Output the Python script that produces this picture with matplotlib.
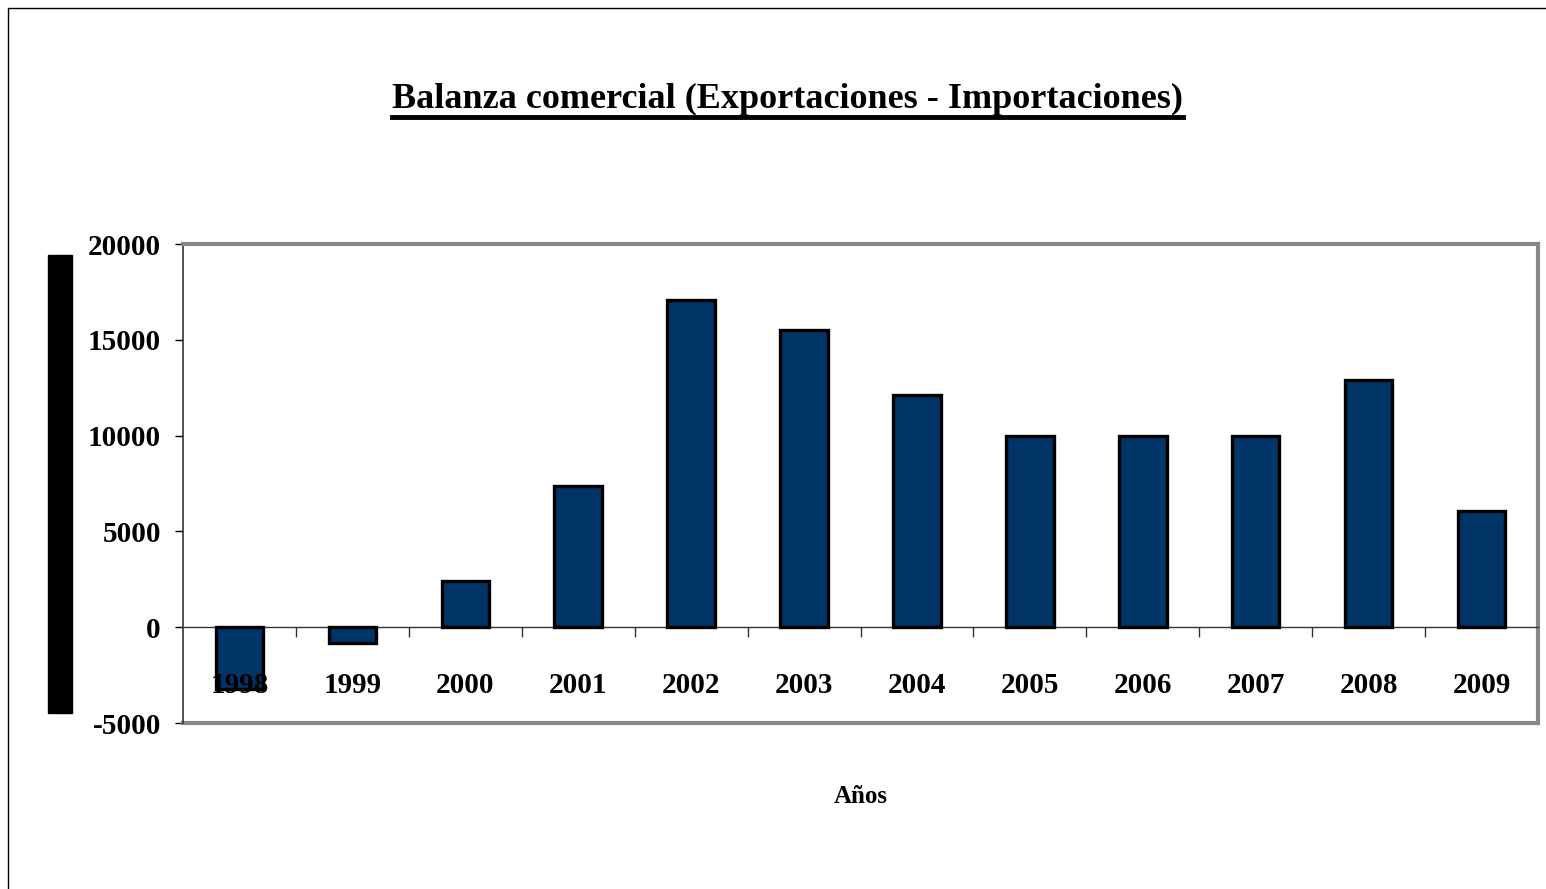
import matplotlib
matplotlib.use("Agg")
import matplotlib.pyplot as plt
from matplotlib.patches import Rectangle
from matplotlib.lines import Line2D

# --- data ---
years = ['1998', '1999', '2000', '2001', '2002', '2003',
         '2004', '2005', '2006', '2007', '2008', '2009']
balanza = [-3200, -800, 2400, 7350, 17100, 15500,
           12100, 10000, 10000, 10000, 12900, 6050]
yticks = [-5000, 0, 5000, 10000, 15000, 20000]

title = 'Balanza comercial (Exportaciones - Importaciones)'
bar_color = '#003366'
serif = ['Liberation Serif', 'DejaVu Serif']

W, H = 1546, 889
fig = plt.figure(figsize=(W / 100, H / 100), dpi=100)

# outer border of the chart area
fig.patches.append(Rectangle((8 / W, -0.05), 1.2, (H - 8) / H + 0.05,
                             transform=fig.transFigure, fill=False,
                             edgecolor='black', linewidth=1.0))

ax = fig.add_axes([183 / W, 1 - 723 / H, (1538 - 183) / W, (723 - 244) / H])

x = list(range(len(years)))
ax.bar(x, balanza, width=0.42, color=bar_color, edgecolor='black',
       linewidth=2.4, zorder=3)

ax.set_xlim(-0.5, len(years) - 0.5)
ax.set_ylim(-5000, 20000)

# y axis
ax.set_yticks(yticks)
ax.set_yticklabels([str(v) for v in yticks], fontfamily=serif,
                   fontweight='bold', fontsize=21)
ax.tick_params(axis='y', direction='out', length=6, width=1, pad=10)

# x axis sits on zero, ticks between categories, labels below
ax.spines['bottom'].set_position(('data', 0))
ax.spines['bottom'].set_color('#333333')
ax.spines['bottom'].set_linewidth(1.0)
ax.set_xticks([i + 0.5 for i in x[:-1]] + [len(years) - 0.5])
ax.set_xticklabels([])
ax.tick_params(axis='x', direction='out', length=7, width=1, color='#333333')
for i, lab in zip(x, years):
    ax.annotate(lab, xy=(i, 0), xytext=(0, -45), textcoords='offset pixels',
                ha='center', va='top', fontfamily=serif, fontweight='bold',
                fontsize=21, zorder=4)

ax.spines['left'].set_color('#333333')
ax.spines['left'].set_linewidth(1.2)
for s in ['top', 'right']:
    ax.spines[s].set_color('#888888')
    ax.spines[s].set_linewidth(3)
ax.add_line(Line2D([0, 1], [0, 0], transform=ax.transAxes, color='#888888',
                   linewidth=3, clip_on=False))

ax.text(0.5, -0.13, 'Años', transform=ax.transAxes, ha='center', va='top',
        fontfamily=serif, fontweight='bold', fontsize=18)

# black block on the left (axis title area in the original)
fig.patches.append(Rectangle((48 / W, 1 - 713 / H), 24 / W, 458 / H,
                             transform=fig.transFigure, color='black'))

# title, fitted to the reference width, with underline
t = fig.text(787 / W, 1 - 108 / H, title, ha='center', va='baseline',
             fontfamily=serif, fontweight='bold', fontsize=30)
fig.canvas.draw()
bb = t.get_window_extent()
t.set_fontsize(30 * 790 / bb.width)
fig.canvas.draw()
bb = t.get_window_extent()
uy = 1 - 117 / H
fig.lines.append(Line2D([bb.x0 / W, bb.x1 / W], [uy, uy],
                        transform=fig.transFigure, color='black',
                        linewidth=3.5))

fig.savefig('out.png', dpi=100)
